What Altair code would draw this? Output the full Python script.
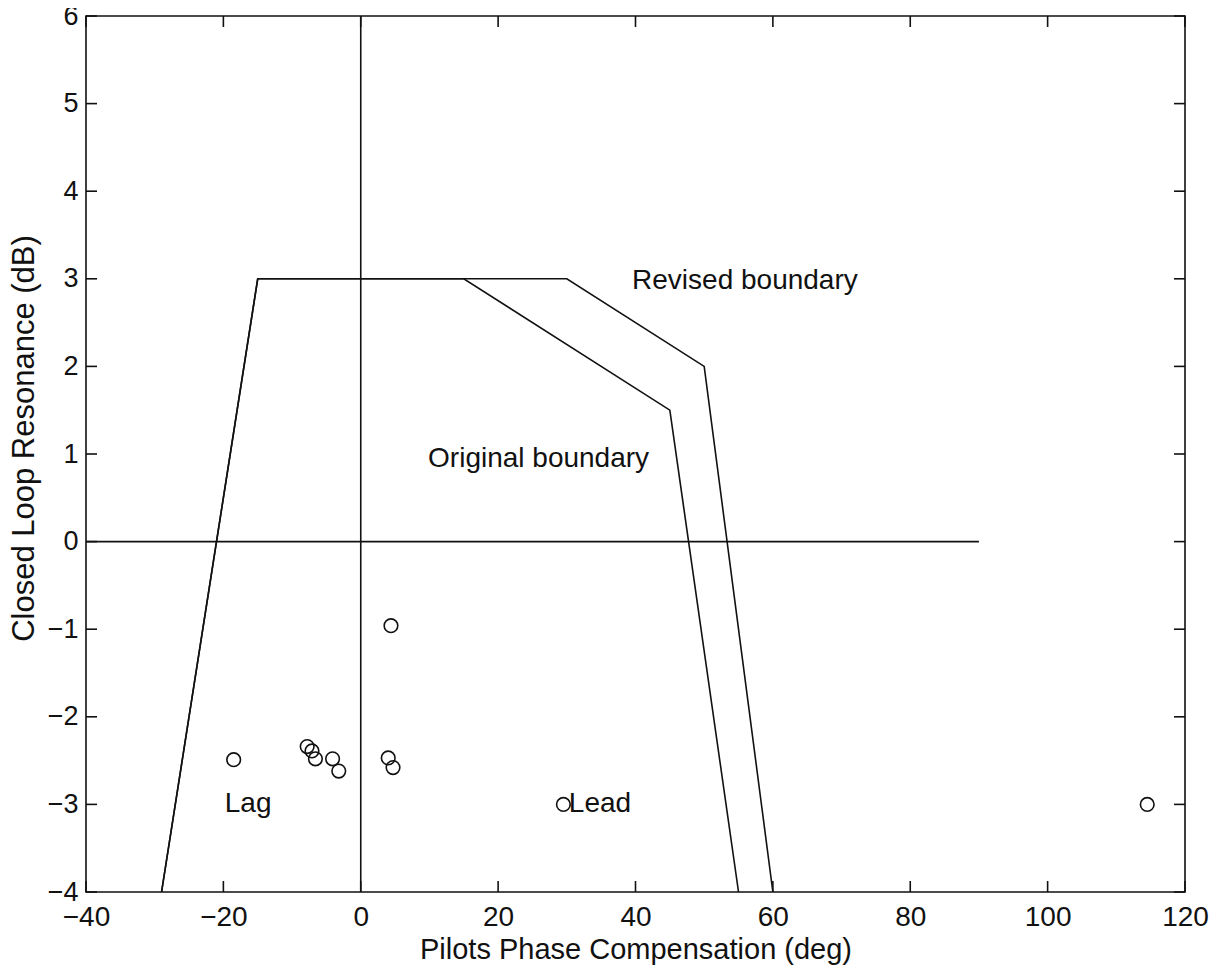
import altair as alt
import pandas as pd

# ---- data ----
x_ticks = [-40, -20, 0, 20, 40, 60, 80, 100, 120]
y_ticks = [-4, -3, -2, -1, 0, 1, 2, 3, 4, 5, 6]

orig_x = [-29, -15, 15, 45, 55]
orig_y = [-4, 3, 3, 1.5, -4]

rev_x = [-29, -15, 30, 50, 60]
rev_y = [-4, 3, 3, 2, -4]

hline_x = [-40, 90]
hline_y = [0, 0]

vline_x = [0, 0]
vline_y = [-4, 6]

pts_x = [-18.5, -7.8, -7.1, -6.6, -4.1, -3.2, 4.0, 4.7, 4.4, 29.5, 114.5]
pts_y = [-2.49, -2.34, -2.39, -2.48, -2.48, -2.62, -2.47, -2.58, -0.96, -3.0, -3.0]

label_text = ["Revised boundary", "Original boundary", "Lag", "Lead"]
label_x = [39.5, 9.8, -19.8, 30.3]
label_y = [2.98, 0.94, -3.0, -3.0]

# ---- tables ----
rows = []
for name, xs_, ys_ in [("orig", orig_x, orig_y), ("rev", rev_x, rev_y),
                       ("h", hline_x, hline_y), ("v", vline_x, vline_y)]:
    for i, (a, b) in enumerate(zip(xs_, ys_)):
        rows.append({"x": a, "y": b, "series": name, "o": i})
lines_df = pd.DataFrame(rows)
pts_df = pd.DataFrame({"x": pts_x, "y": pts_y})
lab_df = pd.DataFrame({"x": label_x, "y": label_y, "t": label_text})
xt_df = pd.DataFrame({"x": x_ticks})
yt_df = pd.DataFrame({"y": y_ticks})

W, H = 1099, 876
TICK = 11
FONT = "Liberation Sans"
INK = "#111111"

xs = alt.Scale(domain=[-40, 120], nice=False, zero=False)
ys = alt.Scale(domain=[-4, 6], nice=False, zero=False)

x_axis = alt.Axis(orient="bottom", values=x_ticks, format="d", ticks=False, domain=False,
                  grid=False, labelFontSize=28, labelPadding=11, labelColor=INK, labelFont=FONT,
                  title="Pilots Phase Compensation (deg)", titleFontSize=29,
                  titleFontWeight="normal", titleFont=FONT, titleColor=INK, titlePadding=4,
                  labelFlush=False)
y_axis = alt.Axis(orient="left", values=y_ticks, format="d", ticks=False, domain=False,
                  grid=False, labelFontSize=27, labelPadding=8, labelColor=INK, labelFont=FONT,
                  title="Closed Loop Resonance (dB)", titleFontSize=31,
                  titleFontWeight="normal", titleFont=FONT, titleColor=INK, titlePadding=7,
                  titleY=422, labelFlush=False)

lines = alt.Chart(lines_df).mark_line(color=INK, strokeWidth=1.6).encode(
    x=alt.X("x:Q", scale=xs, axis=x_axis),
    y=alt.Y("y:Q", scale=ys, axis=y_axis),
    detail="series:N",
    order="o:Q",
)

points = alt.Chart(pts_df).mark_point(shape="circle", filled=False, color=INK,
                                      size=185, strokeWidth=1.6, opacity=1).encode(
    x=alt.X("x:Q", scale=xs, axis=x_axis),
    y=alt.Y("y:Q", scale=ys, axis=y_axis),
)

texts = alt.Chart(lab_df).mark_text(align="left", baseline="middle", fontSize=28,
                                    font=FONT, color=INK).encode(
    x=alt.X("x:Q", scale=xs, axis=x_axis),
    y=alt.Y("y:Q", scale=ys, axis=y_axis),
    text="t:N",
)

# inward tick marks on all four sides, placed by the scales
vt = dict(color=INK, thickness=1.6, size=TICK, orient="vertical", opacity=1)
ht = dict(color=INK, thickness=1.6, size=TICK, orient="horizontal", opacity=1)
xt_bottom = alt.Chart(xt_df).mark_tick(**vt).encode(
    x=alt.X("x:Q", scale=xs, axis=x_axis), y=alt.value(H - TICK / 2))
xt_top = alt.Chart(xt_df).mark_tick(**vt).encode(
    x=alt.X("x:Q", scale=xs, axis=x_axis), y=alt.value(TICK / 2))
yt_left = alt.Chart(yt_df).mark_tick(**ht).encode(
    y=alt.Y("y:Q", scale=ys, axis=y_axis), x=alt.value(TICK / 2))
yt_right = alt.Chart(yt_df).mark_tick(**ht).encode(
    y=alt.Y("y:Q", scale=ys, axis=y_axis), x=alt.value(W - TICK / 2))

chart = alt.layer(lines, points, texts, xt_bottom, xt_top, yt_left, yt_right).properties(
    width=W, height=H,
    autosize=alt.AutoSizeParams(type="none"),
    padding={"left": 78, "top": 8, "right": 30, "bottom": 80},
    background="white",
).configure_view(
    stroke=INK, strokeWidth=1.6
)

chart.save("out.html", embed_options={"renderer": "svg", "actions": False})
